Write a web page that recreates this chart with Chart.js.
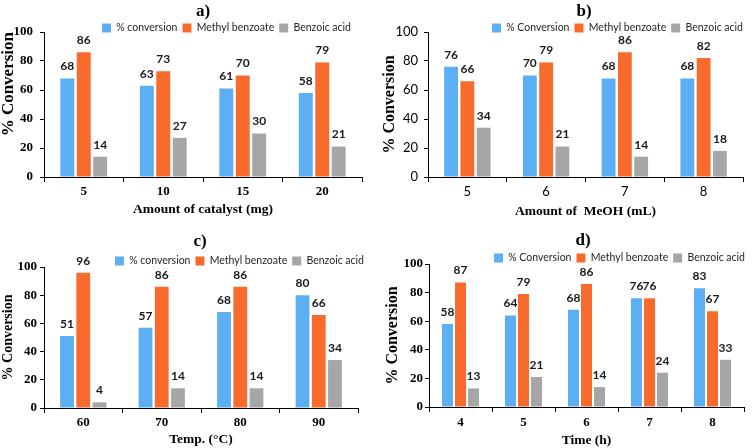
<!DOCTYPE html>
<html><head><meta charset="utf-8">
<script src="https://cdn.jsdelivr.net/npm/chart.js@4.4.0/dist/chart.umd.min.js"></script>
<style>
html,body{margin:0;padding:0;background:#fff;width:756px;height:448px;overflow:hidden}
canvas{position:absolute}
</style></head><body>
<canvas id="ca" width="378" height="224" style="left:0;top:0"></canvas>
<canvas id="cb" width="378" height="224" style="left:378px;top:0"></canvas>
<canvas id="cc" width="378" height="224" style="left:0;top:224px"></canvas>
<canvas id="cd" width="378" height="224" style="left:378px;top:224px"></canvas>
<script>
// ---- data ----
const aCategories = ['5','10','15','20'];
const aConversion = [68,63,61,58];
const aMethyl = [86,73,70,79];
const aBenzoic = [14,27,30,21];

const bCategories = ['5','6','7','8'];
const bConversion = [76,70,68,68];
const bMethyl = [66,79,86,82];
const bBenzoic = [34,21,14,18];

const cCategories = ['60','70','80','90'];
const cConversion = [51,57,68,80];
const cMethyl = [96,86,86,66];
const cBenzoic = [4,14,14,34];

const dCategories = ['4','5','6','7','8'];
const dConversion = [58,64,68,76,83];
const dMethyl = [87,79,86,76,67];
const dBenzoic = [13,21,14,24,33];

const namesLower = ['% conversion','Methyl benzoate','Benzoic acid'];
const namesUpper = ['% Conversion','Methyl benzoate','Benzoic acid'];
const yTickValues = [0,20,40,60,80,100];

// ---- styles ----
const SERIF = '"Liberation Serif","Times New Roman",serif';
const SANS = 'Lato,"Liberation Sans",sans-serif';
const COLORS = ['#5BAFF2','#F96B2D','#A6A6A6'];
const TITLE_SIZE = 17, LEG_FONT = 10.5, LEG_PAD = 5, LEG_BOX = 9;

const valueLabels = {
  id: 'valueLabels',
  afterDatasetsDraw(chart) {
    const ctx = chart.ctx;
    ctx.save();
    ctx.font = 'bold 12px ' + SANS;
    ctx.fillStyle = '#1a1a1a';
    ctx.textAlign = 'center';
    ctx.textBaseline = 'middle';
    chart.data.datasets.forEach((ds, i) => {
      chart.getDatasetMeta(i).data.forEach((el, j) => {
        ctx.fillText(String(ds.data[j]), el.x, el.y - 12);
      });
    });
    ctx.restore();
  }
};

const placeBoxes = {
  id: 'placeBoxes',
  afterLayout(chart, args, o) {
    const t = chart.titleBlock;
    if (t) {
      const dx = o.titleX - (t.left + t.right) / 2;
      t.left += dx; t.right += dx;
      const h = t.bottom - t.top;
      t.top = o.titleY - TITLE_SIZE / 2; t.bottom = t.top + h;
    }
    const l = chart.legend;
    if (l) {
      l.left = o.legendStart - LEG_PAD; l.right = chart.width + 200;
      const h = l.bottom - l.top;
      l.top = o.legendY - LEG_PAD - Math.max(LEG_FONT, LEG_BOX) / 2; l.bottom = l.top + h;
    }
  }
};

function makePanel(id, cats, series, names, L) {
  const legendH = Math.max(LEG_FONT, LEG_BOX) + LEG_PAD + 10;
  new Chart(document.getElementById(id), {
    type: 'bar',
    data: {
      labels: cats,
      datasets: series.map((d, i) => ({
        label: names[i], data: d, backgroundColor: COLORS[i], borderWidth: 0,
        categoryPercentage: 0.62, barPercentage: 0.85
      }))
    },
    options: {
      responsive: false, animation: false, devicePixelRatio: 1,
      layout: { padding: { left: 0, right: 378 - L.axisR, top: L.top - TITLE_SIZE - legendH, bottom: 0 } },
      plugins: {
        title: { display: true, text: L.title, color: '#000', padding: 0,
          font: { family: SERIF, size: TITLE_SIZE, weight: 'bold', lineHeight: 1 } },
        legend: { display: true, position: 'top', align: 'start',
          labels: { boxWidth: LEG_BOX, boxHeight: LEG_BOX, padding: LEG_PAD, color: '#262626',
            font: { family: SANS, size: LEG_FONT } } },
        tooltip: { enabled: false },
        placeBoxes: { titleX: L.titleX, titleY: L.titleY, legendStart: L.legendStart, legendY: L.legendY }
      },
      scales: {
        x: {
          grid: { display: true, drawOnChartArea: false, drawTicks: true, tickLength: 5, color: '#000', offset: true },
          border: { display: true, color: '#000', width: 1 },
          ticks: { color: '#000', padding: L.xTickPad, font: L.tickFont },
          title: { display: true, text: L.xTitle, color: '#000', padding: { top: 0, bottom: L.xTitlePadB },
            font: { family: SERIF, size: 13.5, weight: 'bold', lineHeight: 1 } },
          afterFit: s => { s.height = 224 - L.bottom; }
        },
        y: {
          min: 0, max: 100,
          afterBuildTicks: s => { s.ticks = yTickValues.map(v => ({ value: v })); },
          grid: { display: true, drawOnChartArea: false, drawTicks: true, tickLength: 4, color: '#000' },
          border: { display: true, color: '#000', width: 1 },
          ticks: { color: '#000', padding: L.yTickPad, font: L.tickFont },
          title: { display: true, text: '% Conversion', color: '#000', align: L.yTitleAlign,
            padding: { top: L.yTitlePadT, bottom: 0 },
            font: { family: SERIF, size: L.yTitleSize, weight: 'bold', lineHeight: 1 } },
          afterFit: s => { s.width = L.axisL; }
        }
      }
    },
    plugins: [valueLabels, placeBoxes]
  });
}

const serifTick = { family: SERIF, size: 13, weight: 'bold', lineHeight: 1 };
const sansTick = { family: SANS, size: 13, weight: 'normal', lineHeight: 1 };

makePanel('ca', aCategories, [aConversion, aMethyl, aBenzoic], namesLower, {
  title: 'a)', xTitle: 'Amount of catalyst (mg)', axisL: 44, axisR: 362, top: 32, bottom: 177,
  titleX: 203, titleY: 12, legendStart: 102, legendY: 28, xTickPad: 3.5, xTitlePadB: 8,
  yTickPad: 7, yTitlePadT: 0, yTitleSize: 17, yTitleAlign: 'end', tickFont: serifTick });
makePanel('cb', bCategories, [bConversion, bMethyl, bBenzoic], namesUpper, {
  title: 'b)', xTitle: 'Amount of  MeOH (mL)', axisL: 50, axisR: 365, top: 32, bottom: 177,
  titleX: 206, titleY: 12, legendStart: 114, legendY: 28, xTickPad: 3.5, xTitlePadB: 6,
  yTickPad: 6, yTitlePadT: 4, yTitleSize: 16, yTitleAlign: 'center', tickFont: sansTick });
makePanel('cc', cCategories, [cConversion, cMethyl, cBenzoic], namesLower, {
  title: 'c)', xTitle: 'Temp. (°C)', axisL: 44, axisR: 358, top: 43, bottom: 184,
  titleX: 200, titleY: 18, legendStart: 115, legendY: 37, xTickPad: 3.5, xTitlePadB: 2,
  yTickPad: 3, yTitlePadT: 1, yTitleSize: 14, yTitleAlign: 'center', tickFont: serifTick });
makePanel('cd', dCategories, [dConversion, dMethyl, dBenzoic], namesUpper, {
  title: 'd)', xTitle: 'Time (h)', axisL: 51, axisR: 366, top: 40, bottom: 183,
  titleX: 205, titleY: 17, legendStart: 116, legendY: 34, xTickPad: 4.5, xTitlePadB: 1,
  yTickPad: 2, yTitlePadT: 7, yTitleSize: 16, yTitleAlign: 'center', tickFont: serifTick });
</script>
</body></html>
